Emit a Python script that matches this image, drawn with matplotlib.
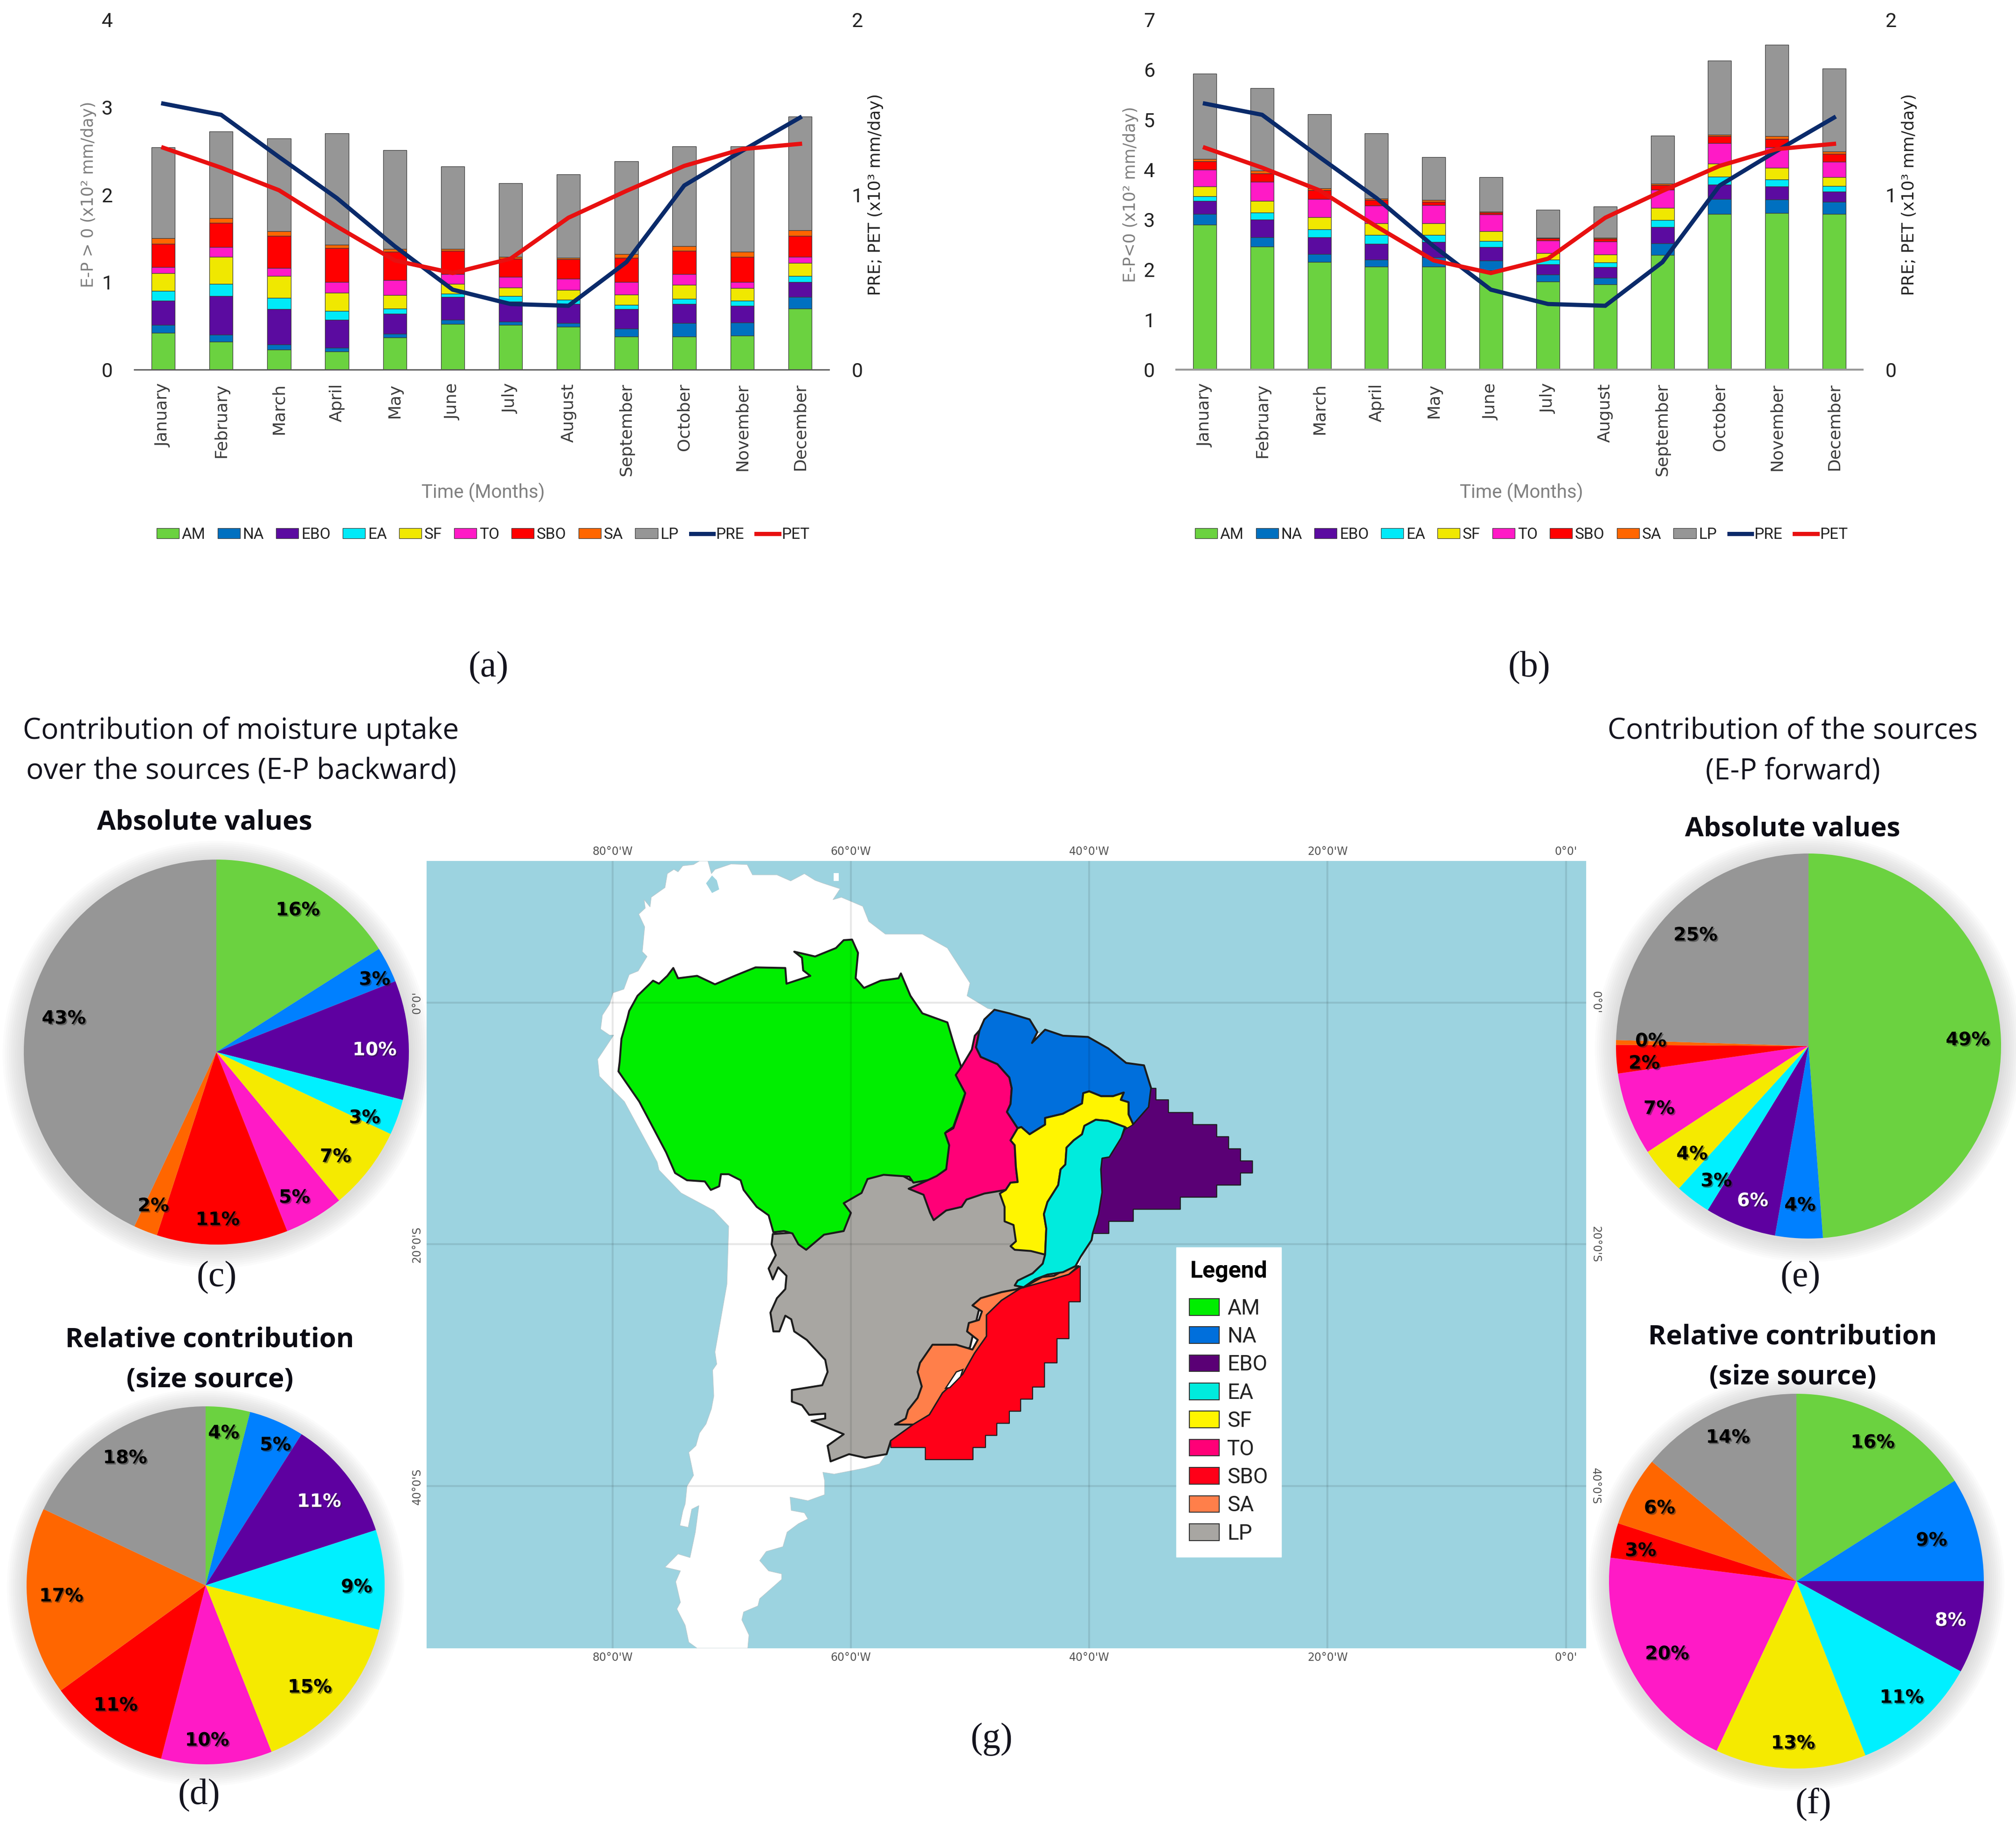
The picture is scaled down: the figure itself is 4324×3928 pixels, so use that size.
import matplotlib
matplotlib.use("Agg")
import matplotlib.pyplot as plt
import matplotlib.patheffects as pe
from matplotlib.patches import Polygon, Circle, Patch
import numpy as np

# ------------------------------------------------------------------ data
MONTHS = ["January", "February", "March", "April", "May", "June", "July",
          "August", "September", "October", "November", "December"]
SOURCES = ["AM", "NA", "EBO", "EA", "SF", "TO", "SBO", "SA", "LP"]

A_AM = [.42, .32, .23, .21, .37, .52, .51, .49, .38, .38, .39, .70]
A_NA = [.09, .08, .06, .04, .04, .05, .04, .04, .09, .15, .15, .13]
A_EBO = [.28, .44, .40, .32, .23, .26, .23, .22, .22, .22, .19, .17]
A_EA = [.11, .14, .13, .10, .06, .04, .06, .05, .05, .06, .06, .07]
A_SF = [.20, .31, .25, .21, .15, .11, .10, .11, .12, .16, .14, .15]
A_TO = [.07, .11, .09, .12, .17, .11, .12, .13, .14, .12, .07, .07]
A_SBO = [.27, .28, .37, .39, .33, .27, .21, .22, .28, .27, .29, .24]
A_SA = [.06, .05, .05, .04, .03, .02, .02, .02, .04, .05, .06, .06]
A_LP = [1.04, .99, 1.06, 1.27, 1.13, .94, .84, .95, 1.06, 1.14, 1.20, 1.30]

B_AM = [2.90, 2.46, 2.15, 2.06, 2.06, 1.99, 1.76, 1.71, 2.29, 3.11, 3.13, 3.11]
B_NA = [.21, .19, .16, .14, .19, .19, .14, .13, .24, .30, .27, .25]
B_EBO = [.26, .35, .34, .32, .30, .27, .21, .21, .32, .29, .26, .20]
B_EA = [.10, .14, .16, .17, .14, .12, .09, .09, .14, .16, .14, .11]
B_SF = [.19, .23, .24, .24, .24, .20, .13, .16, .24, .26, .24, .18]
B_TO = [.34, .39, .36, .35, .36, .33, .25, .26, .37, .41, .41, .31]
B_SBO = [.17, .16, .18, .11, .07, .04, .05, .06, .09, .14, .16, .16]
B_SA = [.04, .06, .04, .03, .03, .02, .01, .02, .03, .03, .06, .04]
B_LP = [1.71, 1.65, 1.48, 1.31, .86, .69, .56, .62, .96, 1.48, 1.83, 1.66]

PRE = [1.52, 1.456, 1.215, .98, .705, .457, .375, .365, .614, 1.052, 1.25, 1.44]
PET = [1.268, 1.154, 1.025, .818, .624, .552, .634, .868, 1.021, 1.164, 1.26, 1.29]

PIE_C = [16, 3, 10, 3, 7, 5, 11, 2, 43]
PIE_D = [4, 5, 11, 9, 15, 10, 11, 17, 18]
PIE_E = [49, 4, 6, 3, 4, 7, 2.4, 0.4, 24.6]
PIE_F = [16, 9, 8, 11, 13, 20, 3, 6, 14]

# region outlines in degrees (lon, lat)
LAND = [(-68.7, 11.4), (-68.25, 10.55), (-66.2, 10.55), (-65.05, 10.05), (-63.9, 10.65), (-63, 10.1), (-62.3, 9.85),
        (-60.9, 9.4), (-61.5, 8.5), (-60.8, 8.7), (-59, 7.95),
        (-58.5, 6.7), (-57.1, 5.65), (-54, 5.65), (-51.9, 4.5), (-50.0, 1.6), (-50.25, .55),
        (-48.5, -.5), (-48, -.6), (-44.5, -2.5), (-40, -2.85), (-37, -5), (-35.3, -5.3), (-34.8, -7.1),
        (-35, -9), (-37, -11), (-38.5, -13), (-39, -15), (-39.7, -19), (-40.9, -21.8), (-43.75, -23.1),
        (-46, -24), (-48.6, -26), (-48.6, -28), (-50.5, -30.75), (-52.3, -32.3), (-53.5, -34),
        (-54.75, -35), (-56.65, -36.25), (-57.05, -37.4), (-57.6, -38.15), (-58.8, -38.5), (-61.4, -39),
        (-62.35, -38.85), (-62.2, -39.55), (-62.2, -40.7), (-63.6, -41.2), (-65.1, -40.9), (-65, -42),
        (-63.9, -42.2), (-63.6, -42.7), (-64.4, -43.1), (-65.35, -43.8), (-65.7, -45), (-67.1, -45.4), (-67.65, -46.15),
        (-66.9, -47), (-65.8, -47.25), (-65.8, -47.7), (-67.65, -49.3), (-67.8, -49.9), (-69, -50.4), (-69.15, -51.05),
        (-68.55, -52.3), (-68.65, -53.4), (-72.9, -53.4), (-73.6, -52.9), (-73.9, -51.5), (-74.6, -50.15), (-74.3, -49.6),
        (-74.7, -47.9), (-74.3, -47), (-75.6, -46.7), (-74.5, -45.6), (-73.5, -45.9), (-73.05, -43.8), (-72.75, -41.6),
        (-73.35, -41.9), (-73.65, -43.4), (-74.35, -43.25), (-74.1, -42.05), (-73.9, -41.45), (-73.75, -40), (-73.2, -39.1),
        (-73.6, -37.2), (-73, -36.65), (-72.7, -35.6), (-72.15, -34.85), (-71.7, -33.6), (-71.5, -32.55), (-71.6, -30.4),
        (-71.25, -29.9), (-71.4, -28.9), (-70.4, -23.3),
        (-70.25, -18.5), (-71.5, -17.2), (-74.25, -15.75), (-76.1, -13.85), (-76.25, -13.2), (-79, -8.2),
        (-81.1, -6.1), (-81.25, -4.7), (-79.9, -2.7), (-80.25, -2.7), (-81, -2.2), (-80.85, -1.05), (-80.25, -.15), (-79.95, .8),
        (-79.05, 1.1), (-78.6, 2.3), (-77.85, 2.6), (-77.1, 3.8), (-77.5, 4.2), (-77.3, 6.25), (-77.8, 7.3), (-77.25, 7.8),
        (-77.35, 8.5), (-76.85, 7.9), (-76.75, 8.7), (-75.6, 9.5), (-75.4, 10.65), (-74.85, 11), (-74.5, 10.8), (-74.1, 11.3),
        (-73.2, 11.4), (-72.7, 11.7), (-72, 11.7), (-71.7, 10.65), (-71.4, 11), (-70.05, 11.45)]
LAKE = [(-71.65, 10.5), (-72.15, 9.85), (-71.65, 9.05), (-71.05, 9.35), (-71.25, 10.1)]
ISLAND = [(-61.45, 10.7), (-61, 10.7), (-61, 10.05), (-61.45, 10.05)]
AM_SHAPE = [(-59.9, 5.2), (-59.4, 4.1), (-59.6, 2.0), (-58.9, 1.2), (-57.5, 1.8), (-56, 2), (-55.8, 2.4),
            (-55, .55), (-54, -.9), (-51.9, -1.65), (-51.25, -3.8), (-50.75, -5.3), (-51.1, -6.1), (-50.4, -7.5),
            (-51.4, -10.3), (-52, -10.7), (-51.6, -12), (-51.9, -13.7), (-53, -14.6), (-54.75, -14.9),
            (-55.1, -14.4), (-57.25, -14.25), (-58.6, -14.6), (-59.1, -15.75), (-60.6, -16.6), (-60, -17.4),
            (-60.6, -18.9), (-62.25, -19.2), (-63.75, -20.45), (-64.4, -20), (-64.9, -19.1), (-65.6, -18.9),
            (-66.5, -19), (-66.9, -17.6), (-67.9, -16.9), (-69, -15.5), (-69.25, -14.7), (-70.25, -14.2),
            (-70.9, -14.2), (-71.05, -15.2), (-71.75, -15.5), (-72.25, -14.8), (-73.75, -14.7), (-74.75, -14.1),
            (-75.5, -12.4), (-77.75, -8.2), (-79.5, -5.7), (-79.4, -4.9), (-79.25, -3), (-78.75, -1.3),
            (-78.6, -.7), (-77.9, .55), (-76.6, 1.8), (-76.1, 1.55), (-75.4, 2.2), (-74.9, 2.85), (-74.5, 2),
            (-72.9, 2.2), (-71.4, 1.5), (-69.75, 2.2), (-68, 2.9), (-65.5, 2.85), (-65.4, 1.55), (-63.4, 2.2),
            (-64, 2.65), (-64.1, 3.7), (-64.75, 4.2), (-63, 3.8), (-61.25, 4.5), (-60.6, 5.15)]
TO_SHAPE = [(-49.2, -2.3), (-49.5, -3.7), (-49.1, -4.5), (-47.7, -5.1), (-46.7, -6.2), (-46.5, -7.1), (-46.6, -8.4),
            (-46.9, -9.05), (-46, -10.4), (-46.6, -11.4), (-46.25, -11.8), (-46.15, -13.6), (-46, -14.85),
            (-46.6, -14.9), (-47, -15.5), (-48.8, -15.8), (-50.3, -16.3), (-50.7, -16.9), (-52, -17.2),
            (-53.05, -18), (-53.35, -17.4), (-53.9, -15.9), (-55.15, -15.4), (-54.1, -14.95), (-52.8, -14.35),
            (-52, -13.8), (-51.75, -11.8), (-52.1, -10.8), (-51.4, -10.4), (-50.6, -8.15), (-50.4, -7.5),
            (-51, -6.4), (-51.2, -6), (-50.7, -5.3), (-49.85, -3.9), (-49.6, -2.75)]
NA_SHAPE = [(-47.95, -.6), (-46.7, -.9), (-45, -1.4), (-44.35, -2.45), (-44.8, -3.35), (-43.7, -2.25), (-42.2, -2.75),
            (-40.1, -2.85), (-38.4, -3.8), (-36.9, -5), (-35.4, -5.2), (-34.8, -7.1), (-35, -8.65), (-36.3, -10.1),
            (-36.7, -9.25), (-36.7, -8.25), (-37.35, -8.05), (-37.1, -7.45), (-38, -7.75), (-39, -7.75), (-40, -7.35),
            (-40.5, -7.5), (-40.6, -8.35), (-42.2, -9.2), (-43.7, -9.55), (-43.7, -10.1), (-45, -10.9), (-45.7, -10.3),
            (-46, -10.4), (-46.9, -9.05), (-46.6, -8.4), (-46.5, -7.1), (-46.7, -6.2), (-47.7, -5.1), (-49.1, -4.5),
            (-49.5, -3.7), (-49.2, -2.3), (-48.8, -1.4)]
SF_SHAPE = [(-40.5, -7.5), (-40, -7.35), (-39, -7.75), (-38, -7.75), (-37.1, -7.45), (-37.35, -8.05), (-36.7, -8.25),
            (-36.7, -9.25), (-36.3, -10.1), (-36.7, -10.5), (-37, -10.3), (-38.4, -9.8), (-39.45, -9.7), (-40.4, -10.2),
            (-40.6, -10.9), (-41.3, -11.4), (-41.9, -12), (-42, -13.4), (-42.4, -13.8), (-42.6, -15.1), (-43.5, -16.5),
            (-43.8, -17.5), (-43.6, -18.7), (-43.7, -20.85), (-44.9, -20.55), (-46.25, -20.45), (-46.6, -20.15),
            (-46.15, -19.75), (-46.35, -18.4), (-47.1, -18.1), (-47.1, -16.9), (-47.5, -15.8), (-47, -15.5),
            (-46.6, -14.9), (-46, -14.85), (-46.15, -13.6), (-46.25, -11.8), (-46.6, -11.4), (-46, -10.4), (-45.7, -10.3),
            (-45, -10.9), (-43.7, -10.1), (-43.7, -9.55), (-42.2, -9.2), (-40.6, -8.35)]
EA_SHAPE = [(-39.45, -9.7), (-38.4, -9.8), (-37, -10.3), (-37.3, -11.2), (-38.3, -12.8), (-38.9, -12.9), (-39, -13.8),
            (-38.9, -15.7), (-39.2, -17.5), (-39.7, -19.1), (-39.8, -19.65), (-40.7, -21), (-41.15, -21.8), (-42.2, -22.3),
            (-43.5, -22.5), (-44.55, -22.9), (-45.5, -23.55), (-46.25, -23.4), (-46, -23), (-44.75, -22.4), (-43.9, -21.6),
            (-43.7, -20.85), (-43.6, -18.7), (-43.8, -17.5), (-43.5, -16.5), (-42.6, -15.1), (-42.4, -13.8), (-42, -13.4),
            (-41.9, -12), (-41.3, -11.4), (-40.6, -10.9), (-40.4, -10.2)]
EBO_SHAPE = [(-34.8, -7.1), (-34.4, -7.1), (-34.4, -8.05), (-33.35, -8.05), (-33.35, -9.1), (-31.3, -9.1), (-31.3, -10.1),
             (-29.3, -10.1), (-29.3, -11.1), (-28.3, -11.1), (-28.3, -12.1), (-27.3, -12.1), (-27.3, -13.1), (-26.3, -13.1),
             (-26.3, -14.1), (-27.3, -14.1), (-27.3, -15.1), (-29.3, -15.1), (-29.3, -16.1), (-32.35, -16.1), (-32.35, -17.1),
             (-36.3, -17.1), (-36.3, -18.1), (-38.35, -18.1), (-38.35, -19.1), (-39.7, -19.1), (-39.2, -17.5), (-38.9, -15.7),
             (-39, -13.8), (-38.9, -12.9), (-38.3, -12.8), (-37.3, -11.2), (-37, -10.5), (-36.3, -10.1), (-35, -8.65)]
SBO_SHAPE = [(-40.75, -21.8), (-40.75, -24.75), (-41.7, -24.75), (-41.7, -27.8), (-42.7, -27.8), (-42.7, -29.8),
             (-43.75, -29.8), (-43.75, -31.8), (-44.75, -31.8), (-44.75, -32.8), (-45.75, -32.8), (-45.75, -33.8),
             (-46.7, -33.8), (-46.7, -34.8), (-47.75, -34.8), (-47.75, -35.8), (-48.7, -35.8), (-48.7, -36.8),
             (-49.75, -36.8), (-49.75, -37.8), (-53.75, -37.8), (-53.75, -36.8), (-56.65, -36.8), (-56.65, -36.25),
             (-54.75, -34.9), (-53.4, -34.1), (-52.3, -32.3), (-50.6, -30.75), (-49.6, -29), (-48.6, -27.6), (-48.6, -25.85),
             (-47.35, -24.65), (-45.75, -23.65), (-43.75, -23.1), (-41.7, -22.5)]
SA_SHAPE = [(-40.9, -21.8), (-41.7, -21.9), (-42.95, -22.6), (-43.95, -22.7), (-44.85, -23.2), (-45.75, -23.65),
            (-47.35, -23.95), (-49.1, -24.45), (-49.8, -25.05), (-49, -25.55), (-49.25, -26.25), (-50.1, -26.5),
            (-50.25, -27.2), (-49.35, -27.9), (-49.8, -28.7), (-51.15, -28.3), (-53.15, -28.3), (-54.2, -29.8),
            (-54.4, -30.55), (-54.05, -31.75), (-54.4, -32.7), (-55.2, -33.7), (-55.4, -34.4), (-56.3, -34.9),
            (-54.75, -34.9), (-53.4, -34.1), (-52.3, -32.3), (-50.6, -30.75), (-49.6, -29), (-48.6, -27.6),
            (-48.6, -25.85), (-47.35, -24.65), (-45.75, -23.65), (-43.75, -23.1), (-41.7, -22.5)]
LAGOON = [(-52.05, -31.9), (-51.15, -30.55), (-50.6, -30.35), (-50.8, -30.95), (-51.7, -31.85)]
LP_SHAPE = [(-66.55, -19.15), (-66.65, -20), (-66.3, -20.9), (-66.9, -22), (-66.55, -22.9), (-66.1, -21.9), (-65.4, -22.6),
            (-65.5, -23.7), (-66.2, -24.45), (-66.75, -25.65), (-66.5, -27.2), (-66, -27.2), (-65.5, -25.9), (-65, -26.2),
            (-64.75, -27.2), (-63.7, -27.9), (-62.15, -29.55), (-61.95, -30.55), (-62.4, -31.65), (-64.95, -32.05),
            (-64.95, -33), (-64.1, -33.3), (-63.5, -34.1), (-62.15, -34), (-62.15, -34.4), (-63.3, -34.6), (-60.6, -35.7),
            (-61.95, -36.65), (-61.7, -37.95), (-60.15, -37.35), (-58.8, -37.65), (-57, -37.35), (-56.65, -36.25),
            (-54.75, -34.9), (-53, -31), (-50, -28.5), (-49.2, -25.2), (-45, -23.2), (-43.5, -21), (-44, -18), (-45, -16),
            (-47, -15), (-52, -15), (-55, -14.7), (-58, -13), (-62, -17), (-64.4, -19)]

# ------------------------------------------------------------------ layout
W, H = 4324, 3928
DPI = 100
NARROW = "Roboto"
fig = plt.figure(figsize=(W / DPI, H / DPI), dpi=DPI, facecolor="white")


def axpx(l, t, r, b, **kw):
    return fig.add_axes([l / W, 1 - b / H, (r - l) / W, (b - t) / H], **kw)


def ftext(x, y, s, **kw):
    kw.setdefault("ha", "center")
    kw.setdefault("va", "center")
    return fig.text(x / W, 1 - y / H, s, **kw)


BAR_COLORS = ["#6BD240", "#0070C0", "#5B0BA0", "#00EAF8", "#F0E800", "#FF1AC6", "#FF0000", "#FF6600", "#969696"]
PIE_COLORS = ["#6BD240", "#0080FF", "#5E00A0", "#00F0FF", "#F5EA00", "#FF1AC6", "#FF0000", "#FF6600", "#969696"]
NAVY = "#0A2A6A"
RED = "#E81010"


def bar_panel(box, series, ymax, left_label, spine, legend_x):
    l, t, r, b = box
    ax = axpx(l, t, r, b)
    x = np.arange(12)
    bottom = np.zeros(12)
    for vals, c, name in zip(series, BAR_COLORS, SOURCES):
        ax.bar(x, vals, 0.405, bottom=bottom, color=c, edgecolor="#3a3a3a", linewidth=0.9, label=name)
        bottom += np.array(vals)
    ax.set_xlim(-0.5, 11.5)
    ax.set_ylim(0, ymax)
    ax.set_yticks(range(ymax + 1))
    ax.set_xticks(x)
    ax.set_xticklabels(MONTHS, rotation=90, fontsize=26, color="#3c3c3c", family="DejaVu Sans")
    ax.tick_params(axis="x", length=0, pad=21)
    ax.tick_params(axis="y", length=0, pad=33, labelsize=31, labelcolor="#222222")
    for lb in ax.get_yticklabels():
        lb.set_family(NARROW)
    for s in ["top", "left", "right"]:
        ax.spines[s].set_visible(False)
    ax.spines["bottom"].set_color(spine[0])
    ax.spines["bottom"].set_linewidth(spine[1])
    ax.set_ylabel(left_label, fontsize=25, color="#7f7f7f", family="DejaVu Sans", va="center")
    ax.yaxis.set_label_coords(-98 / (r - l), 0.5)
    ax2 = ax.twinx()
    ax2.plot(x, PRE, color=NAVY, lw=6.5, label="PRE", solid_joinstyle="miter")
    ax2.plot(x, PET, color=RED, lw=6.5, label="PET", solid_joinstyle="miter")
    ax2.set_ylim(0, 2)
    ax2.set_yticks([0, 1, 2])
    ax2.tick_params(axis="y", length=0, pad=35, labelsize=31, labelcolor="#222222")
    for lb in ax2.get_yticklabels():
        lb.set_family(NARROW)
    for s in ax2.spines.values():
        s.set_visible(False)
    ax2.set_ylabel("PRE; PET (x10³ mm/day)", fontsize=25.5, color="#222222", family="DejaVu Sans", va="center")
    ax2.yaxis.set_label_coords(1 + 100 / (r - l), 0.5)
    ax.text((legend_x - l) / (r - l), (793 - 1057) / (b - t), "Time (Months)", transform=ax.transAxes,
            ha="center", va="center", fontsize=29, color="#808080", family=NARROW)
    h1, l1 = ax.get_legend_handles_labels()
    h2, l2 = ax2.get_legend_handles_labels()
    fig.legend(h1 + h2, l1 + l2, ncol=11, loc="center", bbox_to_anchor=(legend_x / W, 1 - 1147 / H),
               frameon=False, prop={"family": NARROW, "size": 24}, labelcolor="#222222", handlelength=1.45,
               handleheight=0.62, handletextpad=0.17, columnspacing=0.78, borderpad=0)
    return ax


bar_panel((288, 42, 1778, 793), [A_AM, A_NA, A_EBO, A_EA, A_SF, A_TO, A_SBO, A_SA, A_LP], 4,
          "E-P > 0 (x10² mm/day)", ("#555555", 2), 1036)
bar_panel((2523, 42, 3995, 793), [B_AM, B_NA, B_EBO, B_EA, B_SF, B_TO, B_SBO, B_SA, B_LP], 7,
          "E-P<0 (x10² mm/day)", ("#999999", 3), 3263)


# ------------------------------------------------------------------ pies
def pie_panel(cx, cy, r, vals, label_xy):
    m = 1.12
    ax = axpx(cx - r * m, cy - r * m, cx + r * m, cy + r * m)
    for i in range(10, 0, -1):
        ax.add_patch(Circle((0, -0.012), 1 + 0.011 * i, color="#555555", alpha=0.018, lw=0, zorder=0))
    _, _, autos = ax.pie(vals, colors=PIE_COLORS, startangle=90, counterclock=False, radius=1, autopct="%.0f%%",
                         wedgeprops={"linewidth": 0, "zorder": 1},
                         textprops={"fontsize": 28.5, "fontweight": "bold", "family": "DejaVu Sans", "zorder": 3})
    for k, (t, xy) in enumerate(zip(autos, label_xy)):
        t.set_position(xy)
        t.set_ha("center")
        t.set_va("center")
        t.set_color("white" if k == 2 else "black")
        t.set_path_effects([pe.withSimplePatchShadow(offset=(2, -2), shadow_rgbFace="#222222", alpha=0.45)])
    ax.set_xlim(-m, m)
    ax.set_ylim(-m, m)
    ax.set_aspect("auto")
    ax.axis("off")


POS_C = [(.423, .737), (.822, .376), (.822, .01), (.77, -.342), (.619, -.544), (.406, -.756), (.007, -.872), (-.327, -.80), (-.792, .174)]
POS_D = [(.101, .85), (.39, .783), (.634, .467), (.843, -.01), (.582, -.57), (.008, -.867), (-.502, -.671), (-.806, -.061), (-.45, .711)]
POS_E = [(.827, .031), (-.044, -.828), (-.29, -.805), (-.479, -.702), (-.605, -.562), (-.776, -.326), (-.853, -.091), (-.819, .025), (-.587, .575)]
POS_F = [(.407, .739), (.721, .217), (.822, -.211), (.562, -.622), (-.018, -.866), (-.69, -.389), (-.831, .162), (-.73, .389), (-.365, .766)]
pie_panel(464, 2257, 413, PIE_C, POS_C)
pie_panel(441, 3401, 384, PIE_D, POS_D)
pie_panel(3879, 2244, 413, PIE_E, POS_E)
pie_panel(3853, 3392, 402, PIE_F, POS_F)

# ------------------------------------------------------------------ map
ax = axpx(915, 1847, 3402, 3536)
ax.set_facecolor("#9CD3E0")
ax.set_xlim(-95.6, 1.7)
ax.set_ylim(-53.4, 11.7)
ax.add_patch(Polygon(LAND, closed=True, fc="white", ec="#b8c8cc", lw=0.8, zorder=1))
ax.add_patch(Polygon(LAKE, closed=True, fc="#9CD3E0", ec="none", zorder=1.1))
ax.add_patch(Polygon(ISLAND, closed=True, fc="white", ec="none", zorder=1.1))
REGIONS = [(LP_SHAPE, "#A8A6A2", 3.0), (SA_SHAPE, "#FF7F4A", 3.0), (SBO_SHAPE, "#FF0018", 1.6), (AM_SHAPE, "#00EE00", 3.0),
           (TO_SHAPE, "#FF0077", 3.0), (NA_SHAPE, "#006FDC", 3.0), (SF_SHAPE, "#FFF500", 3.0), (EA_SHAPE, "#00EBDD", 3.0),
           (EBO_SHAPE, "#5A0075", 1.6)]
for i, (shape, c, lw) in enumerate(REGIONS):
    ax.add_patch(Polygon(shape, closed=True, fc=c, ec="#1c1c1c", lw=lw, joinstyle="round", zorder=2 + i * 0.1))
ax.add_patch(Polygon(LAGOON, closed=True, fc="white", ec="#1c1c1c", lw=2, zorder=3))
ax.set_xticks([-80, -60, -40, -20, 0])
ax.set_xticklabels(["80°0'W", "60°0'W", "40°0'W", "20°0'W", "0°0'"])
ax.set_yticks([0, -20, -40])
ax.set_yticklabels(["0°0'", "20°0'S", "40°0'S"])
ax.tick_params(length=0, labelsize=17, labelcolor="#555555", top=True, labeltop=True, right=True, labelright=True, pad=6)
for tk in ax.yaxis.get_major_ticks():
    tk.label1.set_rotation(90)
    tk.label1.set_va("center")
    tk.label2.set_rotation(-90)
    tk.label2.set_va("center")
ax.set_axisbelow(False)
ax.grid(True, color="black", alpha=0.09, lw=3, zorder=4)
for s in ax.spines.values():
    s.set_visible(False)
MAP_COLORS = dict(zip(SOURCES, ["#00EE00", "#006FDC", "#5A0075", "#00EBDD", "#FFF500", "#FF0077", "#FF0018", "#FF7F4A", "#A8A6A2"]))
hs = [Patch(fc=MAP_COLORS[s], ec="#333333", lw=1.5, label=s) for s in SOURCES]
lg = ax.legend(handles=hs, title="Legend", loc="upper left",
               bbox_to_anchor=((2523 - 915) / (3402 - 915), 1 - (2676 - 1847) / (3536 - 1847)),
               borderaxespad=0, facecolor="white", edgecolor="white", framealpha=1, fancybox=False,
               prop={"family": NARROW, "size": 33},
               title_fontproperties={"family": NARROW, "size": 36, "weight": "bold"}, handlelength=1.38, handleheight=0.82,
               handletextpad=0.38, labelspacing=0.357, borderpad=0.62, labelcolor="#222222")
lg._legend_box.sep = 24
lg.set_zorder(6)

# ------------------------------------------------------------------ titles and captions
TITLE = "#14141e"
ftext(517, 1568, "Contribution of moisture uptake", fontsize=44.7, family="Open Sans", color=TITLE)
ftext(517, 1655, "over the sources (E-P backward)", fontsize=44.7, family="Open Sans", color=TITLE)
ftext(3845, 1568, "Contribution of the sources", fontsize=44.7, family="Open Sans", color=TITLE)
ftext(3845, 1655, "(E-P forward)", fontsize=44.7, family="Open Sans", color=TITLE)
BOLD = dict(fontsize=42, family="Open Sans", fontweight="bold", color="#0c0c14")
ftext(439, 1764, "Absolute values", **BOLD)
ftext(3856 - 11, 1778, "Absolute values", **BOLD)
ftext(450, 2874, "Relative contribution", **BOLD)
ftext(450, 2961, "(size source)", **BOLD)
ftext(3856 - 11, 2868, "Relative contribution", **BOLD)
ftext(3856 - 11, 2955, "(size source)", **BOLD)
CAP = dict(fontsize=56, family="Liberation Serif", color="#14141e")
ftext(1048, 1433, "(a)", **CAP)
ftext(3280, 1433, "(b)", **CAP)
ftext(465, 2741, "(c)", **CAP)
ftext(427, 3852, "(d)", **CAP)
ftext(3862, 2741, "(e)", **CAP)
ftext(3889, 3870, "(f)", **CAP)
ftext(2127, 3731, "(g)", **CAP)

fig.savefig("out.png", dpi=DPI, facecolor="white")
